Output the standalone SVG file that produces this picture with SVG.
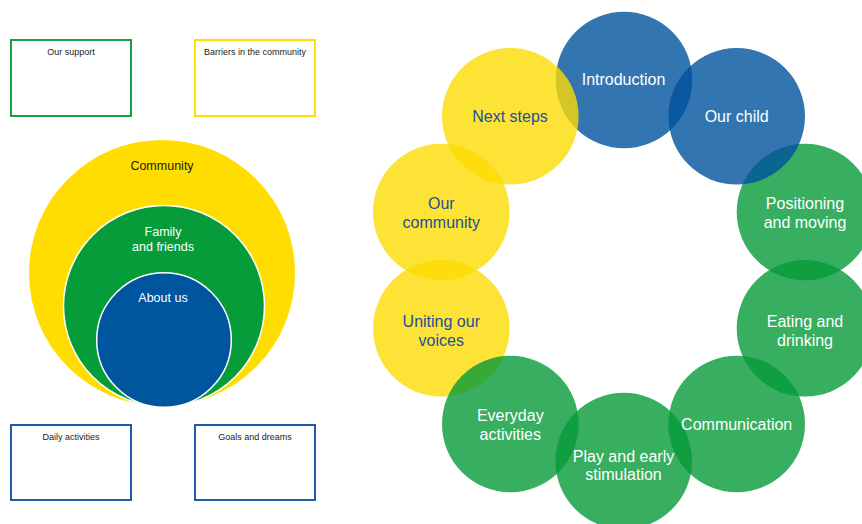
<svg xmlns="http://www.w3.org/2000/svg" width="862" height="524" viewBox="0 0 862 524">
<style>
.box{fill:#fff;stroke-width:2}
.bt{font-family:"Liberation Sans",Arial,sans-serif;font-size:9px;fill:#1a1a1a;text-anchor:middle}
.lt{font-family:"Liberation Sans",Arial,sans-serif;font-size:12.5px;text-anchor:middle}
.ct{font-family:"Liberation Sans",Arial,sans-serif;font-size:16px;text-anchor:middle}
.w{fill:#fff}
.dk{fill:#1d4f9b}
.cb{fill:#00539c;fill-opacity:0.8}
.cg{fill:#059a38;fill-opacity:0.8}
.cy{fill:#fcdc03;fill-opacity:0.8}
</style>
<rect width="862" height="524" fill="#fff"/>
<g id="box-our-support"><rect class="box" x="11" y="40" width="120" height="76" stroke="#16a148"/><text class="bt" x="71" y="54.5">Our support</text></g>
<g id="box-barriers"><rect class="box" x="195" y="40" width="120" height="76" stroke="#ffde00"/><text class="bt" x="255" y="54.5">Barriers in the community</text></g>
<g id="box-daily"><rect class="box" x="11" y="425" width="120" height="75" stroke="#1c5fa8"/><text class="bt" x="71" y="439.5">Daily activities</text></g>
<g id="box-goals"><rect class="box" x="195" y="425" width="120" height="75" stroke="#1c5fa8"/><text class="bt" x="255" y="439.5">Goals and dreams</text></g>
<g id="community"><circle cx="162" cy="273" r="133" fill="#ffdd00"/><text class="lt" x="162" y="169.5" fill="#1a1a1a">Community</text></g>
<g id="family"><circle cx="164" cy="306" r="100.5" fill="#069c39" stroke="#fff" stroke-width="1.5"/><text class="lt w" x="163" y="236">Family</text><text class="lt w" x="163" y="251">and friends</text></g>
<g id="about-us"><circle cx="164" cy="340" r="67.3" fill="#00559f" stroke="#fff" stroke-width="1.5"/><text class="lt w" x="163" y="302">About us</text></g>
<g id="connectors"></g>
<g id="introduction"><circle class="cb" cx="624" cy="80" r="68.3"/><text class="ct w" x="623.5" y="85">Introduction</text></g>
<g id="next-steps"><circle class="cy" cx="510.3" cy="116.3" r="68.3"/><text class="ct dk" x="510" y="122">Next steps</text></g>
<g id="our-community"><circle class="cy" cx="441.3" cy="212" r="68.3"/><text class="ct dk" x="441.3" y="208.5">Our</text><text class="ct dk" x="441.3" y="227.5">community</text></g>
<g id="uniting"><circle class="cy" cx="441.3" cy="328.3" r="68.3"/><text class="ct dk" x="441.3" y="327">Uniting our</text><text class="ct dk" x="441.3" y="346">voices</text></g>
<g id="everyday"><circle class="cg" cx="510.3" cy="424" r="68.3"/><text class="ct w" x="510.3" y="421">Everyday</text><text class="ct w" x="510.3" y="439.5">activities</text></g>
<g id="play"><circle class="cg" cx="623.7" cy="461" r="68.3"/><text class="ct w" x="623.5" y="462">Play and early</text><text class="ct w" x="623.5" y="480">stimulation</text></g>
<g id="communication"><circle class="cg" cx="736.7" cy="424" r="68.3"/><text class="ct w" x="736.7" y="429.5">Communication</text></g>
<g id="eating"><circle class="cg" cx="805" cy="328.3" r="68.3"/><text class="ct w" x="805" y="327">Eating and</text><text class="ct w" x="805" y="346">drinking</text></g>
<g id="positioning"><circle class="cg" cx="805" cy="212" r="68.3"/><text class="ct w" x="805" y="208.5">Positioning</text><text class="ct w" x="805" y="227.5">and moving</text></g>
<g id="our-child"><circle class="cb" cx="736.7" cy="116.3" r="68.3"/><text class="ct w" x="736.7" y="121.5">Our child</text></g>
</svg>
